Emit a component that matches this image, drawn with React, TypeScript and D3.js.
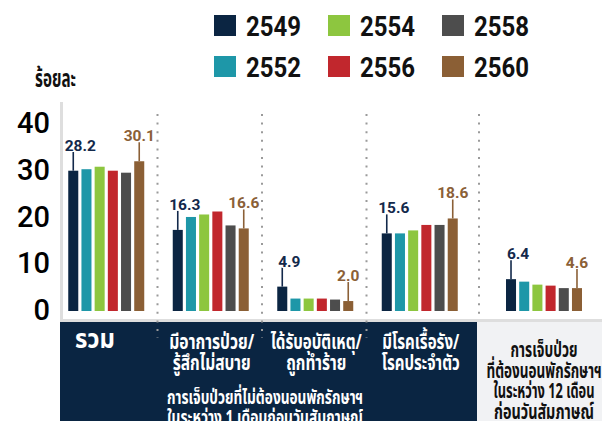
import React from "react";
import * as d3 from "d3";

const years = ["2549", "2552", "2554", "2556", "2558", "2560"];
const yearColors = ["#0b2542", "#1e97a8", "#8dc63f", "#c1272d", "#4d4d4d", "#8b5f35"];
const groups = ["total", "sick", "accident", "chronic", "inpatient"];

const v2549 = [28.2, 16.3, 4.9, 15.6, 6.4];
const v2552 = [28.5, 18.9, 2.5, 15.6, 5.9];
const v2554 = [29.0, 19.4, 2.5, 16.2, 5.3];
const v2556 = [28.2, 20.0, 2.5, 17.3, 5.1];
const v2558 = [27.8, 17.2, 2.3, 17.3, 4.6];
const v2560 = [30.1, 16.6, 2.0, 18.6, 4.6];
const seriesValues = [v2549, v2552, v2554, v2556, v2558, v2560];

const yTicks = [0, 10, 20, 30, 40];
const yLabel = "ร้อยละ";
const catLabels = [
  ["รวม"],
  ["มีอาการป่วย/", "รู้สึกไม่สบาย"],
  ["ได้รับอุบัติเหตุ/", "ถูกทำร้าย"],
  ["มีโรคเรื้อรัง/", "โรคประจำตัว"],
  ["การเจ็บป่วย", "ที่ต้องนอนพักรักษาฯ", "ในระหว่าง 12 เดือน", "ก่อนวันสัมภาษณ์"],
];
const subLabel = ["การเจ็บป่วยที่ไม่ต้องนอนพักรักษาฯ", "ในระหว่าง 1 เดือนก่อนวันสัมภาษณ์"];

// layout (text widths matched to the reference's condensed face)
const catLabelWidths = [[40], [85, 78], [91, 60], [77, 78], [67, 115, 101, 100]];
const subLabelWidths = [196, 196];

const W = 610;
const H = 429;
const NAVY = "#0a2542";
const THAI = "'Noto Sans Thai', 'Noto Sans Thai UI', 'Noto Sans', 'DejaVu Sans', sans-serif";
const NUM = "Roboto, 'Noto Sans', sans-serif";

function FitText(props: {
  x: number;
  y: number;
  w: number;
  anchor?: "start" | "middle" | "end";
  size: number;
  fill: string;
  family?: string;
  weight?: number;
  children: string;
}) {
  const { x, y, w, anchor = "start", size, fill, family = THAI, weight = 700, children } = props;
  const x0 = anchor === "middle" ? x - w / 2 : anchor === "end" ? x - w : x;
  return (
    <text
      x={x0}
      y={y}
      textLength={w}
      lengthAdjust="spacingAndGlyphs"
      fontFamily={family}
      fontWeight={weight}
      fontSize={size}
      fill={fill}
    >
      {children}
    </text>
  );
}

export default function App() {
  const y = d3.scaleLinear().domain([0, 40]).range([311, 112]);
  const yTickPos = d3.scaleLinear().domain([0, 40]).range([310, 123]);
  const xMain = d3.scaleBand<string>().domain(groups.slice(0, 4)).range([54, 472]);
  const boxLeft = 477;
  const groupCenter = (i: number) =>
    i < 4 ? (xMain(groups[i]) as number) + xMain.bandwidth() / 2 : (boxLeft + W) / 2 + 0.5;
  const inner = d3.scaleBand<string>().domain(years).range([-38, 38]).paddingInner(0.24);
  const bw = inner.bandwidth();

  const separators = [1, 2, 3].map((i) => (xMain(groups[i]) as number) - 1);
  const lastSep = 479;

  return (
    <div style={{ margin: -8 }}>
      <svg width={W} height={H} style={{ display: "block", background: "#fff" }}>
        {/* legend */}
        {years.map((yr, i) => {
          const col = Math.floor(i / 2);
          const row = i % 2;
          const lx = 214 + col * 114;
          const ly = 15 + row * 41;
          return (
            <g key={yr}>
              <rect x={lx} y={ly} width={22} height={21} fill={yearColors[i]} />
              <text
                x={lx + 32}
                y={ly + 21}
                fontFamily={NUM}
                fontWeight={700}
                fontSize={27}
                fill="#111"
                textLength={55}
                lengthAdjust="spacingAndGlyphs"
              >
                {yr}
              </text>
            </g>
          );
        })}

        {/* y label */}
        <FitText x={35} y={87} w={41} size={25} fill="#111">
          {yLabel}
        </FitText>

        {/* frame */}
        <rect x={60} y={102} width={3} height={220} fill="#dedede" />
        <rect x={60} y={319} width={W - 60} height={3} fill="#dedede" />

        {/* y ticks */}
        {yTicks.map((t) => (
          <text
            key={t}
            x={50}
            y={yTickPos(t)}
            textAnchor="end"
            dominantBaseline="central"
            fontFamily={NUM}
            fontWeight={500}
            fontSize={29}
            fill="#000"
          >
            {t}
          </text>
        ))}

        {/* bottom boxes */}
        <rect x={60} y={322} width={boxLeft - 60} height={H - 322} fill={NAVY} />
        <rect x={boxLeft} y={322} width={W - boxLeft} height={H - 322} fill="#f1f2f4" />

        {/* dotted separators */}
        {separators.map((sx, i) => (
          <line
            key={i}
            x1={sx}
            x2={sx}
            y1={114}
            y2={338}
            stroke="#9a9a9a"
            strokeWidth={2}
            strokeDasharray="2 6.6"
          />
        ))}
        <line x1={lastSep} x2={lastSep} y1={114} y2={320} stroke="#9a9a9a" strokeWidth={2} strokeDasharray="2 6.6" />

        {/* bars */}
        {groups.map((g, gi) => (
          <g key={g} transform={`translate(${groupCenter(gi)},0)`}>
            {years.map((yr, si) => {
              const v = seriesValues[si][gi];
              return (
                <rect
                  key={yr}
                  x={inner(yr) as number}
                  y={y(v)}
                  width={bw}
                  height={y(0) - y(v)}
                  fill={yearColors[si]}
                />
              );
            })}
            {[0, 5].map((si) => {
              const v = seriesValues[si][gi];
              const cx = (inner(years[si]) as number) + bw / 2;
              const top = y(v);
              const col = si === 0 ? "#13294b" : "#8b6037";
              return (
                <g key={si}>
                  <line x1={cx} x2={cx} y1={top} y2={top - 19} stroke={col} strokeWidth={1.6} />
                  <text
                    x={cx + (si === 0 ? 7 : 0)}
                    y={top - 20}
                    textAnchor="middle"
                    fontFamily={NUM}
                    fontWeight={700}
                    fontSize={15.5}
                    fill={col}
                    stroke="#fff"
                    strokeWidth={2}
                    paintOrder="stroke"
                  >
                    {v.toFixed(1)}
                  </text>
                </g>
              );
            })}
          </g>
        ))}

        {/* category labels */}
        <FitText x={75} y={348} w={catLabelWidths[0][0]} size={27} fill="#fff">
          {catLabels[0][0]}
        </FitText>
        {[1, 2, 3].map((gi) =>
          catLabels[gi].map((ln, k) => (
            <FitText
              key={`${gi}-${k}`}
              x={groupCenter(gi) + 1}
              y={349 + k * 21}
              w={catLabelWidths[gi][k]}
              anchor="middle"
              size={21}
              fill="#fff"
            >
              {ln}
            </FitText>
          ))
        )}
        {subLabel.map((ln, k) => (
          <FitText key={`s${k}`} x={167} y={404 + k * 19.5} w={subLabelWidths[k]} size={19} fill="#fff">
            {ln}
          </FitText>
        ))}
        {catLabels[4].map((ln, k) => (
          <FitText
            key={`r${k}`}
            x={groupCenter(4)}
            y={357 + k * 20.7}
            w={catLabelWidths[4][k]}
            anchor="middle"
            size={21}
            fill="#111"
          >
            {ln}
          </FitText>
        ))}
      </svg>
    </div>
  );
}
